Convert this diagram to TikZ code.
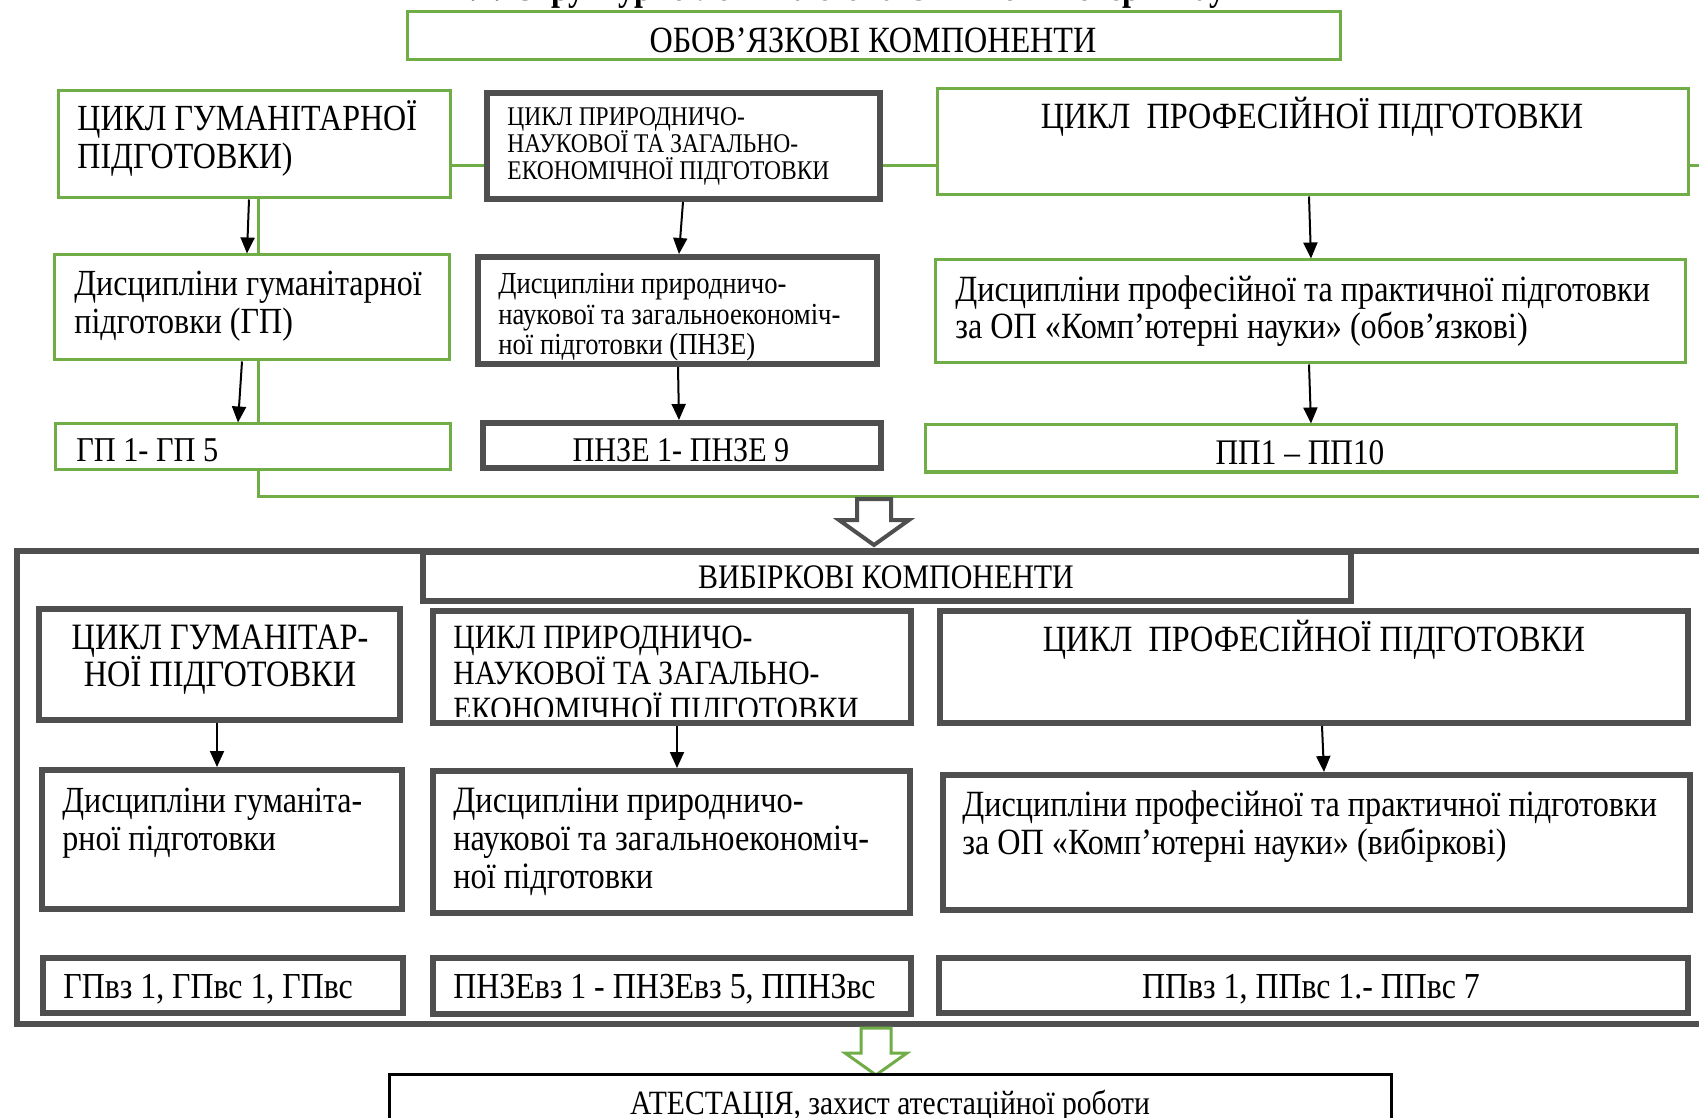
\documentclass[tikz,border=0pt]{standalone}
\usepackage{fontspec}
\setmainfont{Liberation Serif}[FakeStretch=0.87]
\usetikzlibrary{fit,arrows.meta,backgrounds}
\definecolor{gr}{HTML}{70AD47}
\definecolor{dg}{HTML}{4F4F4F}
\newcommand\Lft[1]{\vtop{\lineskiplimit=-\maxdimen\halign{##\hfil\cr#1\crcr}}}
\newcommand\Ctr[1]{\vtop{\lineskiplimit=-\maxdimen\halign{\hfil##\hfil\cr#1\crcr}}}
\newcommand\fs[2]{\fontsize{#1}{#2}\selectfont}
\begin{document}
\begin{tikzpicture}[x=0.5pt,y=-0.5pt,
  gbox/.style={draw=gr, line width=1.5pt, fill=white, inner sep=0pt},
  dbox/.style={draw=dg, line width=3pt, fill=white, inner sep=0pt},
  kbox/.style={draw=black, line width=1.5pt, fill=white, inner sep=0pt},
  txt/.style={inner sep=0pt, anchor=base west},
  ctxt/.style={inner sep=0pt, anchor=base},
  arr/.style={-{Triangle[length=8pt,width=7pt]}, line width=1pt},
  gline/.style={draw=gr, line width=1.5pt}]
\useasboundingbox (0,0) rectangle (1699,1118);
\clip (0,0) rectangle (1699,1118);

% title (cut off at the top)
\node[ctxt, font=\fs{18.5}{20}\bfseries] (title) at (866,1) {2.2. Структурно-логічна схема ОП «Комп’ютерні науки»};

% ---------------- mandatory part ----------------
\node[gbox, fit={(407,12)(1340,60)}] (top) {};
\node[ctxt, font=\fs{18.5}{20}] (ttop) at (873,53) {ОБОВ’ЯЗКОВІ КОМПОНЕНТИ};

\node[gbox, fit={(58,91)(450,198)}] (gc) {};
\node[dbox, fit={(487,93)(880,199)}] (nc) {};
\node[gbox, fit={(937,89)(1688,195)}] (pc) {};
\node[gbox, fit={(54,255)(449,360)}] (gd) {};
\node[dbox, fit={(478,257)(877,364)}] (nd) {};
\node[gbox, fit={(935,260)(1685,363)}] (pd) {};
\node[gbox, fit={(55,424)(450,470)}] (gl) {};
\node[dbox, fit={(483,423)(881,468)}] (nl) {};
\node[gbox, fit={(925,425)(1676,472)}] (pl) {};

\coordinate (e1) at (1712,166);
\coordinate (c1) at (258,496);
\coordinate (e2) at (1712,496);
\begin{scope}[on background layer]
  \draw[gline] ([yshift=-10.75pt]gc.east) -- (e1);
  \draw[gline] ([xshift=2pt]gc.south) -- (c1) -- (e2);
\end{scope}

\node[txt, font=\fs{18.4}{19}] (tgc) at (77,131) {\Lft{ЦИКЛ ГУМАНІТАРНОЇ\cr ПІДГОТОВКИ)}};
\node[txt, font=\fs{13.5}{13.5}] (tnc) at (507,126) {\Lft{ЦИКЛ ПРИРОДНИЧО-\cr НАУКОВОЇ ТА ЗАГАЛЬНО-\cr ЕКОНОМІЧНОЇ ПІДГОТОВКИ}};
\node[ctxt, font=\fs{18.5}{20}] (tpc) at (1312,129) {ЦИКЛ\ \ ПРОФЕСІЙНОЇ ПІДГОТОВКИ};
\node[txt, font=\fs{18.4}{19}] (tgd) at (74,296) {\Lft{Дисципліни гуманітарної\cr підготовки (ГП)}};
\node[txt, font=\fs{15.3}{15.25}] (tnd) at (498,294) {\Lft{Дисципліни природничо-\cr наукової та загальноекономіч-\cr ної підготовки (ПНЗЕ)}};
\node[txt, font=\fs{18.5}{18.5}] (tpd) at (955,302) {\Lft{Дисципліни професійної та практичної підготовки\cr за ОП «Комп’ютерні науки» (обов’язкові)}};
\node[txt, font=\fs{17.4}{19}] (tgl) at (76,461) {ГП 1- ГП 5};
\node[ctxt, font=\fs{17.3}{19}] (tnl) at (681,461) {ПНЗЕ 1- ПНЗЕ 9};
\node[ctxt, font=\fs{18}{19}] (tpl) at (1300,465) {ПП1 – ПП10};

\draw[arr] ([xshift=-2.5pt]gc.south) -- ([xshift=-2.25pt]gd.north);
\draw[arr] ([xshift=-4.75pt]gd.south) -- ([xshift=-7.25pt]gl.north);
\draw[arr] ([xshift=-0.25pt]nc.south) -- ([xshift=0.75pt]nd.north);
\draw[arr] ([xshift=0.25pt]nd.south) -- ([xshift=-1.5pt]nl.north);
\draw[arr] ([xshift=-1.75pt]pc.south) -- ([xshift=0.5pt]pd.north);
\draw[arr] ([xshift=-0.5pt]pd.south) -- ([xshift=5.25pt]pl.north);

% hollow arrow 1
\draw[dg, line width=2pt, fill=white, line join=miter] (857,499) -- (891,499) -- (891,520) -- (909,520) -- (874,545) -- (839,520) -- (857,520) -- cycle;

% ---------------- selective part ----------------
\node[dbox, fit={(17,551)(1720,1024)}] (outer) {};
\node[dbox, fit={(423,552)(1351,601)}] (vy) {};
\node[ctxt, font=\fs{17.2}{19}] (tvy) at (886,588) {ВИБІРКОВІ КОМПОНЕНТИ};

\node[dbox, fit={(39,609)(400,720)}] (gc2) {};
\node[dbox, fit={(433,611)(911,723)}] (nc2) {};
\node[dbox, fit={(940,611)(1688,723)}] (pc2) {};
\node[dbox, fit={(42,770)(402,909)}] (gd2) {};
\node[dbox, fit={(433,771)(910,913)}] (nd2) {};
\node[dbox, fit={(943,775)(1690,910)}] (pd2) {};
\node[dbox, fit={(43,958)(403,1013)}] (gl2) {};
\node[dbox, fit={(433,958)(911,1014)}] (nl2) {};
\node[dbox, fit={(939,958)(1688,1013)}] (pl2) {};

\node[ctxt, font=\fs{18.6}{18.5}] (tgc2) at (220,649) {\Ctr{ЦИКЛ ГУМАНІТАР-\cr НОЇ ПІДГОТОВКИ}};
\begin{scope}
  \clip (436,614) rectangle (908,716);
  \node[txt, font=\fs{17}{18}] (tnc2) at (453,648) {\Lft{ЦИКЛ ПРИРОДНИЧО-\cr НАУКОВОЇ ТА ЗАГАЛЬНО-\cr ЕКОНОМІЧНОЇ ПІДГОТОВКИ}};
\end{scope}
\node[ctxt, font=\fs{18.5}{20}] (tpc2) at (1314,651) {ЦИКЛ\ \ ПРОФЕСІЙНОЇ ПІДГОТОВКИ};
\node[txt, font=\fs{18.4}{19}] (tgd2) at (62,812) {\Lft{Дисципліни гуманіта-\cr рної підготовки}};
\node[txt, font=\fs{18.6}{19}] (tnd2) at (453,812) {\Lft{Дисципліни природничо-\cr наукової та загальноекономіч-\cr ної підготовки}};
\node[txt, font=\fs{18.5}{19}] (tpd2) at (962,816) {\Lft{Дисципліни професійної та практичної підготовки\cr за ОП «Комп’ютерні науки» (вибіркові)}};
\node[txt, font=\fs{18.3}{19}] (tgl2) at (63,998) {ГПвз 1, ГПвс 1, ГПвс};
\node[txt, font=\fs{18.3}{19}] (tnl2) at (453,998) {ПНЗЕвз 1 - ПНЗЕвз 5, ППНЗвс};
\node[ctxt, font=\fs{18.3}{19}] (tpl2) at (1311,998) {ППвз 1, ППвс 1.- ППвс 7};

\draw[arr] ([xshift=-1.25pt]gc2.south) -- ([xshift=-2.5pt]gd2.north);
\draw[arr] ([xshift=2.5pt]nc2.south) -- ([xshift=2.75pt]nd2.north);
\draw[arr] ([xshift=4pt]pc2.south) -- ([xshift=3.75pt]pd2.north);

% hollow arrow 2
\draw[gr, line width=1.5pt, fill=white, line join=miter] (861,1028) -- (891,1028) -- (891,1053) -- (907,1053) -- (876,1075) -- (845,1053) -- (861,1053) -- cycle;

% ---------------- attestation ----------------
\node[kbox, fit={(389,1074)(1391,1135)}] (att) {};
\node[ctxt, font=\fs{17}{19}] (tatt) at (890,1114) {АТЕСТАЦІЯ, захист атестаційної роботи};
\end{tikzpicture}
\end{document}
